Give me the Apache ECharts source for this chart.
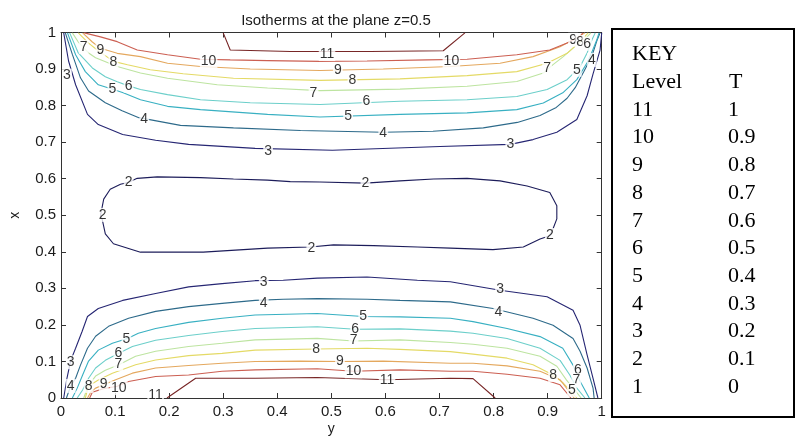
<!DOCTYPE html>
<html>
<head>
<meta charset="utf-8">
<script src="https://cdn.jsdelivr.net/npm/echarts@6/dist/echarts.min.js"></script>
<style>
html,body{margin:0;padding:0;background:#fff;}
#chart{width:796px;height:441px;}
</style>
</head>
<body>
<div id="chart"></div>
<script>
// ---- Data: contour lines, points are [y, x] ----
const titleText = "Isotherms at the plane z=0.5";

const level2Loop = [[0.076,0.490],[0.073,0.499],[0.079,0.544],[0.091,0.571],[0.110,0.585],[0.125,0.590],[0.141,0.601],[0.178,0.605],[0.258,0.603],[0.319,0.599],[0.382,0.596],[0.424,0.592],[0.479,0.591],[0.563,0.588],[0.627,0.594],[0.689,0.599],[0.751,0.601],[0.812,0.594],[0.862,0.580],[0.904,0.562],[0.917,0.526],[0.917,0.490],[0.910,0.463],[0.904,0.444],[0.886,0.435],[0.855,0.413],[0.799,0.406],[0.720,0.410],[0.659,0.413],[0.578,0.417],[0.504,0.419],[0.461,0.413],[0.382,0.410],[0.263,0.399],[0.147,0.399],[0.097,0.422],[0.082,0.449],[0.076,0.490]];

const level3Top = [[0.005,0.999],[0.014,0.922],[0.027,0.857],[0.049,0.776],[0.069,0.748],[0.114,0.721],[0.175,0.705],[0.236,0.694],[0.359,0.683],[0.502,0.678],[0.701,0.688],[0.831,0.694],[0.873,0.707],[0.917,0.727],[0.954,0.762],[0.973,0.827],[0.984,0.887],[0.997,0.952],[1.0,0.999]];
const level4Top = [[0.008,0.999],[0.021,0.940],[0.036,0.876],[0.051,0.840],[0.082,0.808],[0.113,0.786],[0.144,0.767],[0.221,0.746],[0.319,0.739],[0.443,0.732],[0.596,0.727],[0.688,0.730],[0.781,0.739],[0.844,0.754],[0.886,0.773],[0.916,0.795],[0.936,0.820],[0.951,0.849],[0.967,0.893],[0.982,0.936],[0.991,0.977],[0.997,0.999]];
const level5Top = [[0.012,0.999],[0.027,0.939],[0.045,0.893],[0.069,0.857],[0.097,0.844],[0.115,0.835],[0.147,0.816],[0.197,0.798],[0.258,0.789],[0.382,0.776],[0.479,0.769],[0.627,0.776],[0.751,0.780],[0.843,0.789],[0.892,0.807],[0.928,0.835],[0.954,0.871],[0.973,0.917],[0.982,0.947],[0.991,0.980],[0.995,0.999]];
const level6Top = [[0.016,0.999],[0.032,0.944],[0.058,0.903],[0.082,0.879],[0.104,0.865],[0.125,0.854],[0.147,0.844],[0.197,0.830],[0.258,0.816],[0.350,0.808],[0.479,0.803],[0.627,0.812],[0.751,0.816],[0.843,0.825],[0.899,0.844],[0.936,0.871],[0.960,0.906],[0.973,0.944],[0.982,0.980],[0.988,0.999]];
const level7Top = [[0.021,0.999],[0.032,0.974],[0.051,0.944],[0.064,0.931],[0.104,0.907],[0.147,0.889],[0.197,0.875],[0.289,0.857],[0.382,0.848],[0.479,0.841],[0.627,0.845],[0.751,0.853],[0.843,0.866],[0.892,0.889],[0.910,0.912],[0.929,0.934],[0.954,0.966],[0.973,0.988],[0.980,0.999]];
const level8Top = [[0.032,0.999],[0.051,0.971],[0.067,0.952],[0.097,0.921],[0.123,0.912],[0.165,0.898],[0.226,0.887],[0.319,0.875],[0.479,0.869],[0.627,0.873],[0.751,0.882],[0.843,0.893],[0.899,0.916],[0.936,0.943],[0.960,0.975],[0.975,0.999]];
const level9Top = [[0.040,0.999],[0.058,0.974],[0.073,0.957],[0.104,0.943],[0.147,0.934],[0.197,0.916],[0.258,0.907],[0.350,0.900],[0.479,0.896],[0.596,0.900],[0.720,0.907],[0.812,0.916],[0.873,0.934],[0.923,0.961],[0.947,0.980],[0.969,0.999]];
const level10Top = [[0.043,0.999],[0.073,0.988],[0.104,0.975],[0.141,0.952],[0.197,0.939],[0.258,0.927],[0.313,0.925],[0.382,0.923],[0.479,0.921],[0.566,0.922],[0.677,0.925],[0.751,0.927],[0.843,0.939],[0.904,0.952],[0.936,0.971],[0.960,0.989],[0.965,0.999]];
const level11Top = [[0.300,0.999],[0.313,0.952],[0.424,0.948],[0.572,0.948],[0.707,0.950],[0.747,0.999]];

const level3Bottom = [[0.005,0],[0.011,0.054],[0.018,0.103],[0.027,0.136],[0.039,0.182],[0.049,0.223],[0.069,0.245],[0.114,0.267],[0.175,0.286],[0.236,0.304],[0.298,0.313],[0.359,0.321],[0.411,0.322],[0.474,0.328],[0.566,0.331],[0.659,0.322],[0.720,0.318],[0.812,0.295],[0.899,0.277],[0.947,0.240],[0.960,0.199],[0.973,0.118],[0.984,0.054],[0.993,0]];
const level4Bottom = [[0.010,0],[0.018,0.033],[0.027,0.054],[0.036,0.090],[0.049,0.136],[0.064,0.169],[0.088,0.196],[0.125,0.218],[0.175,0.237],[0.236,0.250],[0.298,0.259],[0.359,0.267],[0.411,0.270],[0.474,0.272],[0.566,0.270],[0.627,0.267],[0.720,0.263],[0.799,0.245],[0.873,0.218],[0.910,0.199],[0.947,0.163],[0.960,0.128],[0.973,0.082],[0.984,0.027],[0.986,0]];
const level5Bottom = [[0.021,0],[0.030,0.027],[0.040,0.063],[0.051,0.101],[0.069,0.131],[0.095,0.150],[0.123,0.163],[0.143,0.177],[0.175,0.190],[0.236,0.207],[0.298,0.218],[0.359,0.227],[0.474,0.231],[0.559,0.223],[0.627,0.222],[0.720,0.218],[0.762,0.209],[0.825,0.190],[0.886,0.168],[0.928,0.136],[0.947,0.090],[0.960,0.046],[0.977,0]];
const level6Bottom = [[0.030,0],[0.040,0.022],[0.051,0.054],[0.064,0.082],[0.082,0.103],[0.106,0.122],[0.132,0.141],[0.175,0.158],[0.236,0.171],[0.298,0.182],[0.359,0.190],[0.474,0.195],[0.544,0.188],[0.627,0.189],[0.720,0.183],[0.762,0.177],[0.825,0.163],[0.886,0.136],[0.923,0.103],[0.941,0.063],[0.954,0.027],[0.969,0]];
const level7Bottom = [[0.042,0],[0.051,0.035],[0.064,0.060],[0.082,0.076],[0.106,0.090],[0.138,0.114],[0.175,0.128],[0.236,0.141],[0.298,0.150],[0.359,0.159],[0.474,0.163],[0.541,0.156],[0.627,0.159],[0.720,0.152],[0.762,0.147],[0.825,0.136],[0.886,0.114],[0.917,0.087],[0.935,0.049],[0.962,0]];
const level8Bottom = [[0.045,0],[0.051,0.033],[0.069,0.049],[0.095,0.068],[0.138,0.091],[0.175,0.104],[0.236,0.116],[0.298,0.122],[0.359,0.131],[0.474,0.134],[0.566,0.136],[0.627,0.133],[0.720,0.127],[0.762,0.120],[0.825,0.109],[0.873,0.091],[0.910,0.063],[0.929,0.041],[0.954,0]];
const level9Bottom = [[0.049,0],[0.055,0.016],[0.064,0.027],[0.079,0.036],[0.101,0.050],[0.132,0.068],[0.175,0.082],[0.236,0.089],[0.298,0.095],[0.359,0.100],[0.443,0.101],[0.516,0.100],[0.596,0.101],[0.720,0.095],[0.762,0.095],[0.825,0.088],[0.886,0.073],[0.923,0.050],[0.949,0]];
const level10Bottom = [[0.053,0],[0.058,0.016],[0.077,0.025],[0.104,0.032],[0.125,0.045],[0.175,0.059],[0.236,0.063],[0.298,0.073],[0.359,0.077],[0.474,0.080],[0.541,0.073],[0.627,0.077],[0.720,0.073],[0.762,0.073],[0.825,0.065],[0.886,0.054],[0.923,0.036],[0.943,0]];
const level11Bottom = [[0.196,0],[0.249,0.054],[0.359,0.054],[0.474,0.056],[0.603,0.050],[0.720,0.054],[0.762,0.053],[0.803,0]];

// contour label positions [y, x, text]
const contourLabels = [
  [0.011,0.882,"3"],[0.042,0.960,"7"],[0.073,0.952,"9"],[0.097,0.920,"8"],[0.095,0.844,"5"],[0.125,0.854,"6"],[0.154,0.762,"4"],
  [0.273,0.922,"10"],[0.383,0.675,"3"],[0.492,0.941,"11"],[0.512,0.898,"9"],[0.539,0.871,"8"],[0.467,0.833,"7"],[0.565,0.811,"6"],
  [0.531,0.770,"5"],[0.596,0.724,"4"],[0.722,0.922,"10"],[0.831,0.694,"3"],[0.899,0.903,"7"],[0.954,0.898,"5"],[0.982,0.925,"4"],
  [0.947,0.980,"9"],[0.960,0.974,"8"],[0.973,0.969,"6"],
  [0.125,0.590,"2"],[0.563,0.588,"2"],[0.077,0.501,"2"],[0.904,0.446,"2"],[0.463,0.411,"2"],
  [0.375,0.318,"3"],[0.375,0.259,"4"],[0.121,0.161,"5"],[0.106,0.122,"6"],[0.106,0.093,"7"],[0.018,0.098,"3"],[0.018,0.033,"4"],
  [0.051,0.033,"8"],[0.079,0.038,"9"],[0.107,0.027,"10"],[0.175,0.008,"11"],[0.812,0.299,"3"],[0.809,0.234,"4"],[0.559,0.223,"5"],
  [0.544,0.188,"6"],[0.541,0.158,"7"],[0.472,0.133,"8"],[0.516,0.101,"9"],[0.541,0.073,"10"],[0.603,0.049,"11"],[0.910,0.063,"8"],
  [0.956,0.076,"6"],[0.953,0.049,"7"],[0.945,0.022,"5"]
];

// key table
const keyLevels = ["11","10","9","8","7","6","5","4","3","2","1"];
const keyT = ["1","0.9","0.8","0.7","0.6","0.5","0.4","0.3","0.2","0.1","0"];

const levelColors = {
  2:'#1c1c5a', 3:'#262673', 4:'#2d6a8a', 5:'#38b0c2', 6:'#6ccfca',
  7:'#bde4a0', 8:'#e4da66', 9:'#e4a85e', 10:'#cc5f52', 11:'#782626'
};

const lines = [
  [2, level2Loop],
  [3, level3Top],[4, level4Top],[5, level5Top],[6, level6Top],[7, level7Top],[8, level8Top],[9, level9Top],[10, level10Top],[11, level11Top],
  [3, level3Bottom],[4, level4Bottom],[5, level5Bottom],[6, level6Bottom],[7, level7Bottom],[8, level8Bottom],[9, level9Bottom],[10, level10Bottom],[11, level11Bottom]
];

const chart = echarts.init(document.getElementById('chart'), null, {renderer:'canvas'});
const sans = "'Liberation Sans', Arial, Helvetica, sans-serif";
const serif = "'Liberation Serif', 'Times New Roman', serif";
const axisColor = '#333';
const tickFont = 15;

function mkAxis(pos, isX, labels){
  return {
    type:'value', position: pos, min:0, max:1, interval:0.1,
    axisLine:{show:true, onZero:false, lineStyle:{color:axisColor, width:1}},
    axisTick:{show:true, inside:true, length:5, lineStyle:{color:axisColor}},
    axisLabel:{show:labels, color:'#1a1a1a', fontSize:tickFont, fontFamily:sans, margin: isX?6:5,
      formatter: v => String(Math.round(v*10)/10)},
    splitLine:{show:false}
  };
}

const series = lines.map(([lvl, pts]) => ({
  type:'line', data: pts, showSymbol:false, symbol:'none', silent:true,
  lineStyle:{color: levelColors[lvl], width:1.1}, z:2
}));
series.push({
  type:'scatter', data: contourLabels, symbolSize:0, silent:true, z:5,
  encode:{x:0, y:1},
  label:{show:true, position:'inside', formatter: p => p.data[2], color:'#000',
    fontSize:14, fontFamily:sans, backgroundColor:'#fff', padding:[0,1]}
});

const graphics = [];
graphics.push({type:'rect', shape:{x:612, y:29, width:182, height:388}, style:{fill:'#fff', stroke:'#000', lineWidth:2}});
graphics.push({type:'text', x:632, y:54, style:{text:'KEY', font:'22px '+serif, fill:'#000', textVerticalAlign:'middle'}});
graphics.push({type:'text', x:632, y:82, style:{text:'Level', font:'22px '+serif, fill:'#000', textVerticalAlign:'middle'}});
graphics.push({type:'text', x:729, y:82, style:{text:'T', font:'22px '+serif, fill:'#000', textVerticalAlign:'middle'}});
keyLevels.forEach((lv, i) => {
  const yy = 110 + i*27.7;
  graphics.push({type:'text', x:632, y:yy, style:{text:lv, font:'22px '+serif, fill:'#000', textVerticalAlign:'middle'}});
  graphics.push({type:'text', x:728, y:yy, style:{text:keyT[i], font:'22px '+serif, fill:'#000', textVerticalAlign:'middle'}});
});

chart.setOption({
  animation:false,
  backgroundColor:'#fff',
  title:{text:titleText, left:331, top:8, textAlign:'center',
    textStyle:{fontSize:15, fontWeight:'normal', color:'#1a1a1a', fontFamily:sans}},
  grid:{left:60.5, right:194.3, top:32.5, bottom:41, containLabel:false},
  xAxis:[
    Object.assign(mkAxis('bottom', true, true), {name:'y', nameLocation:'middle', nameGap:24, nameMoveOverlap:false,
      nameTextStyle:{fontSize:14, color:'#1a1a1a', fontFamily:sans}}),
    mkAxis('top', true, false)
  ],
  yAxis:[
    Object.assign(mkAxis('left', false, true), {name:'x', nameLocation:'middle', nameGap:39, nameRotate:90, nameMoveOverlap:false,
      nameTextStyle:{fontSize:14, color:'#1a1a1a', fontFamily:sans}}),
    mkAxis('right', false, false)
  ],
  series: series,
  graphic: graphics
});
</script>
</body>
</html>
